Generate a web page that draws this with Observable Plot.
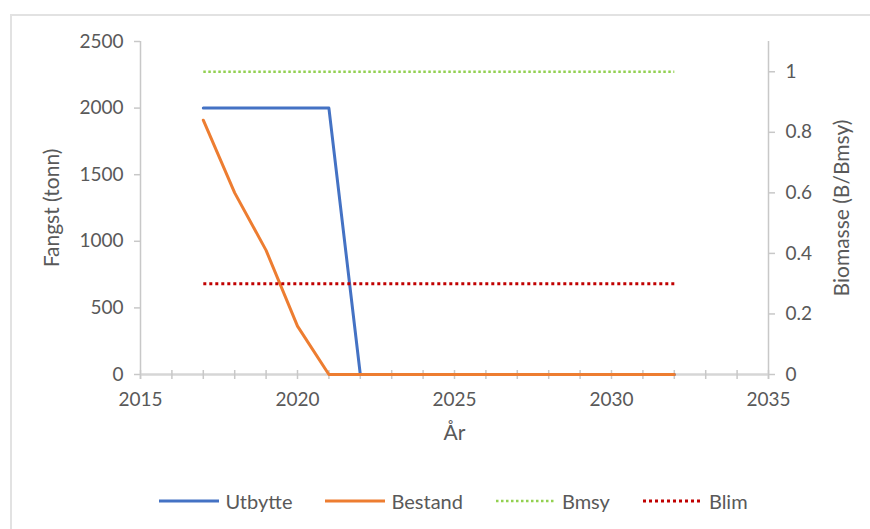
<!DOCTYPE html>
<html><head><meta charset="utf-8">
<script src="https://cdn.jsdelivr.net/npm/d3@7"></script>
<script src="https://cdn.jsdelivr.net/npm/@observablehq/plot@0.6"></script>
<style>
html,body{margin:0;padding:0;background:#fff;overflow:hidden;width:870px;height:529px;font-family:Lato,"Open Sans",sans-serif}
#box{position:absolute;left:10px;top:14px;width:900px;height:600px;border-top:2px solid #e2e2e2;border-left:2px solid #e2e2e2;box-sizing:border-box}
#chart{position:absolute;left:0;top:0}
#legend{position:absolute;left:0;top:489px;width:906px;display:flex;justify-content:center;align-items:center;gap:32px;font-size:20px;color:#595959}
.item{display:flex;align-items:center;gap:5px}
.item svg{display:block}
</style></head>
<body>
<div id="box"></div>
<div id="chart"></div>
<div id="legend"></div>
<script>
const years   = [2017,2018,2019,2020,2021,2022,2023,2024,2025,2026,2027,2028,2029,2030,2031,2032];
const utbytte = [2000,2000,2000,2000,2000,0,0,0,0,0,0,0,0,0,0,0];
const bestand = [0.84,0.60,0.41,0.16,0,0,0,0,0,0,0,0,0,0,0,0];
const bmsy    = [1,1,1,1,1,1,1,1,1,1,1,1,1,1,1,1];
const blim    = [0.3,0.3,0.3,0.3,0.3,0.3,0.3,0.3,0.3,0.3,0.3,0.3,0.3,0.3,0.3,0.3];
const leftTicks  = [0,500,1000,1500,2000,2500];
const rightTicks = [0,0.2,0.4,0.6,0.8,1];
const xTicksLabeled = [2015,2020,2025,2030,2035];
const xTicksMinor = [2015,2016,2017,2018,2019,2020,2021,2022,2023,2024,2025,2026,2027,2028,2029,2030,2031,2032,2033,2034,2035];

const leftMax = 2500, rightMax = 1.1;
const K = leftMax / rightMax;

const series = [
  {name:"Utbytte", values: utbytte, scale: 1, color:"#4472C4", width:3, dash:null},
  {name:"Bestand", values: bestand, scale: K, color:"#ED7D31", width:3, dash:null},
  {name:"Bmsy", values: bmsy, scale: K, color:"#92D050", width:2.5, dash:"2.5,2.5"},
  {name:"Blim", values: blim, scale: K, color:"#C00000", width:3, dash:"3,3"}
];

const axisGray = "#c8c8c8";
const textGray = "#595959";

const lineMarks = series.map(s => Plot.line(years.map((y,i)=>({x:y, v:s.values[i]*s.scale})), {
  x:"x", y:"v", stroke:s.color, strokeWidth:s.width, strokeDasharray:s.dash, strokeLinejoin:"round", strokeLinecap: s.dash ? "butt" : "round"
}));

const chart = Plot.plot({
  width: 870, height: 460,
  marginLeft: 140, marginRight: 102, marginTop: 41, marginBottom: 86,
  style: {fontFamily: "Lato, 'Open Sans', sans-serif", fontSize: "19px", background: "transparent", color: textGray},
  x: {domain: [2015, 2035]},
  y: {domain: [0, leftMax]},
  marks: [
    Plot.ruleX([2015], {stroke: axisGray, strokeWidth: 1.5, insetBottom: -5}),
    Plot.ruleX([2035], {stroke: axisGray, strokeWidth: 1.5, insetBottom: -5}),
    Plot.ruleY([0], {stroke: "#d6d6d6", strokeWidth: 2.5}),
    Plot.axisX({ticks: xTicksMinor, tickSize: 9, dy: -4, stroke: axisGray, strokeWidth: 1.5, tickFormat: () => "", label: null}),
    Plot.axisX({ticks: xTicksLabeled, tickSize: 0, tickPadding: 18, fill: textGray, tickFormat: d => String(d),
      label: null}),
    Plot.axisX({ticks: [], tickSize: 0, fill: textGray, fontSize: 21,
      label: "År", labelAnchor: "center", labelOffset: 65, labelArrow: "none"}),
    Plot.axisY({ticks: leftTicks, tickSize: 6, tickPadding: 11, stroke: axisGray, strokeWidth: 1.5, fill: textGray,
      tickFormat: d => String(d), label: null}),
    Plot.axisY({ticks: [], tickSize: 0, fill: textGray, fontSize: 21,
      label: "Fangst (tonn)", labelAnchor: "center", labelOffset: 96, labelArrow: "none"}),
    Plot.axisY({anchor: "right", ticks: rightTicks.map(v => v*K), tickSize: 6, tickPadding: 11, stroke: axisGray, strokeWidth: 1.5, fill: textGray,
      tickFormat: d => String(Math.round(d/K*10)/10), label: null}),
    Plot.axisY({anchor: "right", ticks: [], tickSize: 0, fill: textGray, fontSize: 21,
      label: "Biomasse (B/Bmsy)", labelAnchor: "center", labelOffset: 80, labelArrow: "none"}),
    ...lineMarks
  ]
});
document.getElementById("chart").appendChild(chart);

const legend = document.getElementById("legend");
for (const s of series) {
  const item = document.createElement("div");
  item.className = "item";
  item.innerHTML = `<svg width="62" height="10"><line x1="1" y1="5" x2="61" y2="5" stroke="${s.color}" stroke-width="${s.width}" ${s.dash ? `stroke-dasharray="${s.dash}"` : ""}/></svg><span>${s.name}</span>`;
  legend.appendChild(item);
}
</script>
</body></html>
